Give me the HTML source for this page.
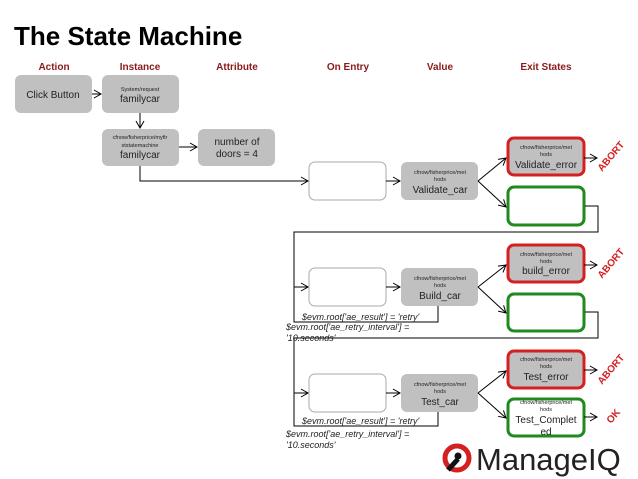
<!DOCTYPE html>
<html><head><meta charset="utf-8"><style>
body{margin:0;background:#fff;width:638px;height:479px;overflow:hidden}
svg{display:block;font-family:"Liberation Sans",sans-serif}
</style></head><body>
<svg width="638" height="479" viewBox="0 0 638 479" xmlns="http://www.w3.org/2000/svg">
<defs><marker id="a" markerWidth="10" markerHeight="10" refX="8" refY="5" orient="auto" markerUnits="userSpaceOnUse"><path d="M1,1 L8,5 L1,9" fill="none" stroke="#000" stroke-width="1"/></marker></defs>
<text x="14" y="45" font-size="26" font-weight="bold">The State Machine</text>
<g font-size="10" font-weight="bold" fill="#8b1a1a" text-anchor="middle">
<text x="54" y="70">Action</text><text x="140" y="70">Instance</text><text x="237" y="70">Attribute</text>
<text x="348" y="70">On Entry</text><text x="440" y="70">Value</text><text x="546" y="70">Exit States</text></g>
<g fill="#c0c0c0">
<rect x="15" y="75" width="77" height="38" rx="6"/>
<rect x="102" y="75" width="77" height="38" rx="6"/>
<rect x="102" y="129" width="77" height="37" rx="6"/>
<rect x="198" y="129" width="77" height="37" rx="6"/>
<rect x="401" y="162" width="77" height="38" rx="6"/>
<rect x="401" y="268" width="77" height="38" rx="6"/>
<rect x="401" y="374" width="77" height="38" rx="6"/>
</g>
<g fill="#fff" stroke="#aaa" stroke-width="1">
<rect x="309" y="162" width="77" height="38" rx="6"/>
<rect x="309" y="268" width="77" height="38" rx="6"/>
<rect x="309" y="374" width="77" height="38" rx="6"/>
</g>
<g stroke="#d42020" stroke-width="3" fill="#c0c0c0">
<rect x="508" y="138" width="76" height="37" rx="6"/>
<rect x="508" y="245" width="76" height="37" rx="6"/>
<rect x="508" y="351" width="76" height="37" rx="6"/>
</g>
<g stroke="#1f8a1f" stroke-width="3" fill="#fff">
<rect x="508" y="187" width="76" height="38" rx="6"/>
<rect x="508" y="294" width="76" height="37" rx="6"/>
<rect x="508" y="399" width="76" height="37" rx="6"/>
</g>
<g stroke="#000" stroke-width="1" fill="none">
<line x1="92" y1="94" x2="101" y2="94" marker-end="url(#a)"/>
<line x1="140" y1="113" x2="140" y2="128" marker-end="url(#a)"/>
<line x1="179" y1="147" x2="197" y2="147" marker-end="url(#a)"/>
<polyline points="140,166 140,181 308,181" marker-end="url(#a)"/>
<line x1="386" y1="181" x2="400" y2="181" marker-end="url(#a)"/>
<line x1="478" y1="181" x2="506" y2="158" marker-end="url(#a)"/>
<line x1="478" y1="181" x2="506" y2="207" marker-end="url(#a)"/>
<line x1="584" y1="158" x2="597" y2="158" marker-end="url(#a)"/>
<polyline points="585,206 598,206 598,232 294,232 294,322 438,322 438,306"/>
<line x1="294" y1="287" x2="308" y2="287" marker-end="url(#a)"/>
<line x1="386" y1="287" x2="400" y2="287" marker-end="url(#a)"/>
<line x1="478" y1="287" x2="506" y2="265" marker-end="url(#a)"/>
<line x1="478" y1="287" x2="506" y2="313" marker-end="url(#a)"/>
<line x1="584" y1="265" x2="597" y2="265" marker-end="url(#a)"/>
<polyline points="585,312 598,312 598,338 294,338 294,426 438,426 438,412"/>
<line x1="294" y1="393" x2="308" y2="393" marker-end="url(#a)"/>
<line x1="386" y1="393" x2="400" y2="393" marker-end="url(#a)"/>
<line x1="478" y1="393" x2="506" y2="371" marker-end="url(#a)"/>
<line x1="478" y1="393" x2="506" y2="418" marker-end="url(#a)"/>
<line x1="584" y1="370" x2="597" y2="370" marker-end="url(#a)"/>
<line x1="584" y1="417" x2="597" y2="417" marker-end="url(#a)"/>
</g>
<g text-anchor="middle" fill="#222">
<text x="53" y="98" font-size="10">Click Button</text>
<text x="140" y="91" font-size="5.5">System/request</text><text x="140" y="102" font-size="10">familycar</text>
<text x="140" y="139" font-size="5.5">cfnow/fisherprice/myfir</text><text x="140" y="147" font-size="5.5">ststatemachine</text><text x="140" y="158" font-size="10">familycar</text>
<text x="237" y="145" font-size="10">number of</text><text x="237" y="157" font-size="10">doors = 4</text>
<g font-size="5.5">
<text x="440" y="174">cfnow/fisherprice/met</text><text x="440" y="181">hods</text>
<text x="440" y="280">cfnow/fisherprice/met</text><text x="440" y="287">hods</text>
<text x="440" y="386">cfnow/fisherprice/met</text><text x="440" y="393">hods</text>
<text x="546" y="149">cfnow/fisherprice/met</text><text x="546" y="156">hods</text>
<text x="546" y="256">cfnow/fisherprice/met</text><text x="546" y="263">hods</text>
<text x="546" y="361">cfnow/fisherprice/met</text><text x="546" y="368">hods</text>
<text x="546" y="404">cfnow/fisherprice/met</text><text x="546" y="411">hods</text>
</g>
<g font-size="10">
<text x="440" y="193">Validate_car</text><text x="440" y="299">Build_car</text><text x="440" y="405">Test_car</text>
<text x="546" y="168">Validate_error</text><text x="546" y="274">build_error</text><text x="546" y="380">Test_error</text>
<text x="546" y="423">Test_Complet</text><text x="546" y="435">ed</text>
</g></g>
<g font-size="9" font-style="italic" fill="#222">
<text x="302" y="320">$evm.root['ae_result'] = 'retry'</text>
<text x="286" y="330">$evm.root['ae_retry_interval'] =</text>
<text x="286" y="341">'10.seconds'</text>
<text x="302" y="424">$evm.root['ae_result'] = 'retry'</text>
<text x="286" y="437">$evm.root['ae_retry_interval'] =</text>
<text x="286" y="448">'10.seconds'</text>
</g>
<g font-size="10" font-weight="bold" fill="#d42020">
<text transform="translate(602,172) rotate(-50)">ABORT</text>
<text transform="translate(602,279) rotate(-50)">ABORT</text>
<text transform="translate(602,385) rotate(-50)">ABORT</text>
<text transform="translate(611,424) rotate(-50)">OK</text>
</g>
<g>
<circle cx="457" cy="458" r="12" fill="none" stroke="#d42020" stroke-width="5"/>
<line x1="448" y1="470" x2="458" y2="459" stroke="#111" stroke-width="5"/>
<circle cx="458" cy="456" r="3.5" fill="#111"/>
<text x="476" y="470" font-size="31" fill="#222">ManageIQ</text>
</g>
</svg>
</body></html>
